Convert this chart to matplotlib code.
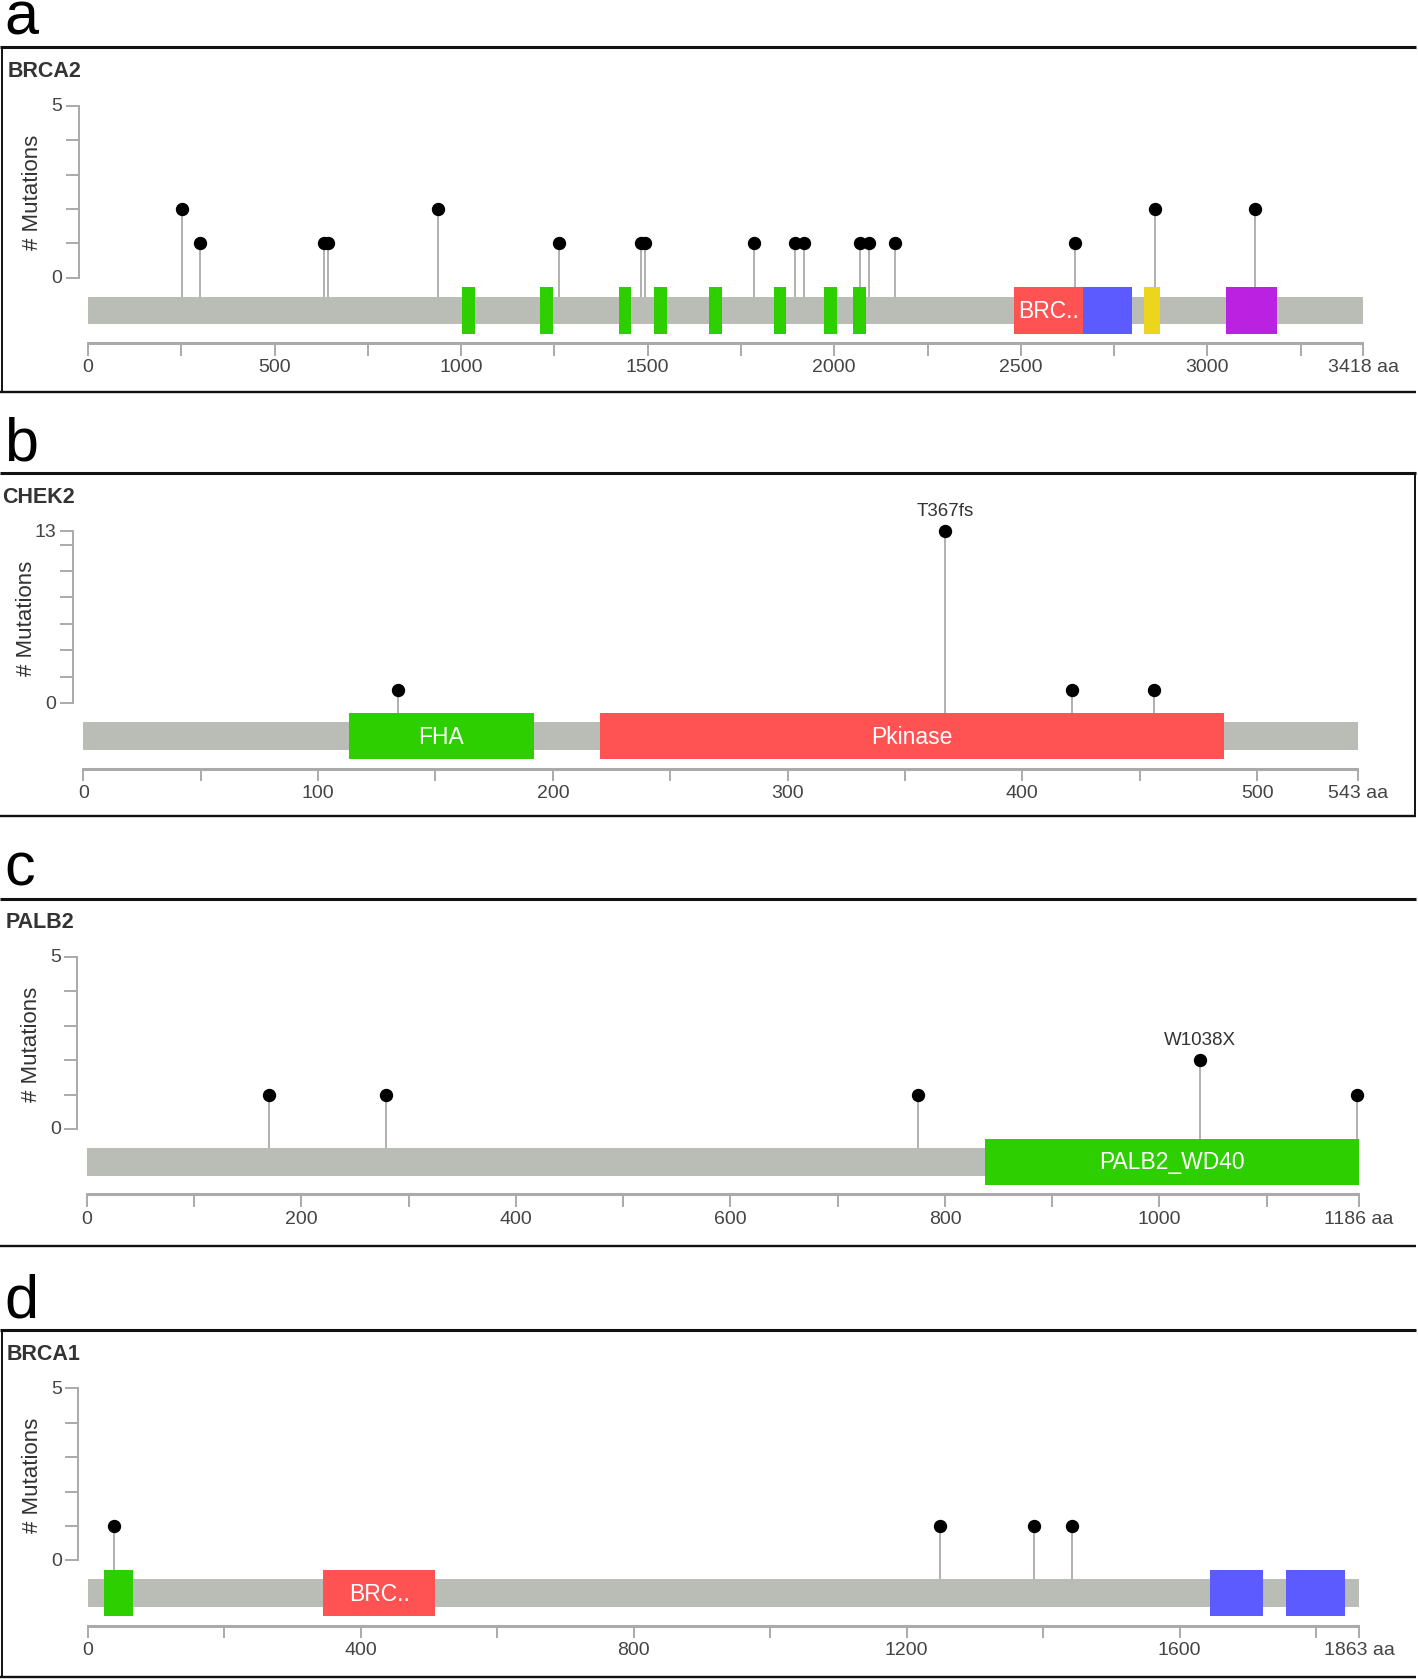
import matplotlib
matplotlib.use("Agg")
import matplotlib.pyplot as plt
from matplotlib.patches import Rectangle
from matplotlib.transforms import blended_transform_factory

plt.rcParams["font.family"] = ["Liberation Sans", "DejaVu Sans"]

W, H = 1418, 1681

BAR_COLOR = "#babdb6"
STEM_COLOR = "#b0b0b0"
AXIS_COLOR = "#aaaaaa"
TEXT_COLOR = "#444444"

GREEN, RED, BLUE, YELLOW, PURPLE = "#2dcf00", "#ff5353", "#5b5bff", "#ebd61d", "#ba21e0"

# ---- BRCA2 ----
brca2_len = 3418
brca2_pos = [252, 300, 632, 643, 937, 1262, 1483, 1493, 1785, 1894, 1920,
             2068, 2094, 2163, 2644, 2859, 3128]
brca2_cnt = [2, 1, 1, 1, 2, 1, 1, 1, 1, 1, 1, 1, 1, 1, 1, 2, 2]
brca2_mut_labels = [""] * len(brca2_pos)
brca2_dom_start = [1002, 1212, 1422, 1517, 1664, 1838, 1972, 2051, 2481, 2668, 2831, 3051]
brca2_dom_end = [1036, 1246, 1456, 1553, 1698, 1871, 2007, 2085, 2668, 2799, 2873, 3188]
brca2_dom_color = [GREEN] * 8 + [RED, BLUE, YELLOW, PURPLE]
brca2_dom_label = [""] * 8 + ["BRC..", "", "", ""]

# ---- CHEK2 ----
chek2_len = 543
chek2_pos = [134, 367, 421, 456]
chek2_cnt = [1, 13, 1, 1]
chek2_mut_labels = ["", "T367fs", "", ""]
chek2_dom_start = [113, 220]
chek2_dom_end = [192, 486]
chek2_dom_color = [GREEN, RED]
chek2_dom_label = ["FHA", "Pkinase"]

# ---- PALB2 ----
palb2_len = 1186
palb2_pos = [170, 279, 775, 1038, 1184]
palb2_cnt = [1, 1, 1, 2, 1]
palb2_mut_labels = ["", "", "", "W1038X", ""]
palb2_dom_start = [837]
palb2_dom_end = [1186]
palb2_dom_color = [GREEN]
palb2_dom_label = ["PALB2_WD40"]

# ---- BRCA1 ----
brca1_len = 1863
brca1_pos = [38, 1249, 1386, 1443]
brca1_cnt = [1, 1, 1, 1]
brca1_mut_labels = ["", "", "", ""]
brca1_dom_start = [24, 345, 1644, 1756]
brca1_dom_end = [66, 509, 1722, 1842]
brca1_dom_color = [GREEN, RED, BLUE, BLUE]
brca1_dom_label = ["", "BRC..", "", ""]

panels = [
    dict(letter="a", gene="BRCA2", length=brca2_len, pos=brca2_pos, cnt=brca2_cnt,
         mut_labels=brca2_mut_labels, ds=brca2_dom_start, de=brca2_dom_end,
         dc=brca2_dom_color, dl=brca2_dom_label, ymax=5, yticks=[0, 1, 2, 3, 4, 5],
         xstep=250, xlabstep=500,
         zero=278.7, x0=88.0, xL=1363.3, yax=78.5, name_x=7.5, bottom=392.7,
         left_border=True, right_border=False),
    dict(letter="b", gene="CHEK2", length=chek2_len, pos=chek2_pos, cnt=chek2_cnt,
         mut_labels=chek2_mut_labels, ds=chek2_dom_start, de=chek2_dom_end,
         dc=chek2_dom_color, dl=chek2_dom_label, ymax=13,
         yticks=[0, 2, 4, 6, 8, 10, 12, 13], xstep=50, xlabstep=100,
         zero=704.3, x0=83.4, xL=1358.0, yax=72.5, name_x=2.1, bottom=817.3,
         left_border=False, right_border=True),
    dict(letter="c", gene="PALB2", length=palb2_len, pos=palb2_pos, cnt=palb2_cnt,
         mut_labels=palb2_mut_labels, ds=palb2_dom_start, de=palb2_dom_end,
         dc=palb2_dom_color, dl=palb2_dom_label, ymax=5, yticks=[0, 1, 2, 3, 4, 5],
         xstep=100, xlabstep=200,
         zero=1130.0, x0=86.8, xL=1359.0, yax=77.2, name_x=5.4, bottom=1246.7,
         left_border=False, right_border=False),
    dict(letter="d", gene="BRCA1", length=brca1_len, pos=brca1_pos, cnt=brca1_cnt,
         mut_labels=brca1_mut_labels, ds=brca1_dom_start, de=brca1_dom_end,
         dc=brca1_dom_color, dl=brca1_dom_label, ymax=5, yticks=[0, 1, 2, 3, 4, 5],
         xstep=200, xlabstep=400,
         zero=1561.3, x0=87.9, xL=1359.0, yax=78.2, name_x=6.4, bottom=1677.7,
         left_border=True, right_border=False),
]

YSPAN = 172.0      # pixels between count 0 and top tick
BAR_TOP, BAR_H = 19.0, 27.5
DOM_TOP, DOM_H = 9.7, 46.3
XAXIS = 65.3


def draw_panel(fig, bg, p):
    z = p["zero"]
    L = p["length"]
    ymax = p["ymax"]
    px = bg.transData

    ax = fig.add_axes([p["x0"] / W, (H - z) / H, (p["xL"] - p["x0"]) / W, YSPAN / H])
    ax.set_xlim(0, L)
    ax.set_ylim(0, ymax)
    ax.axis("off")
    bx = blended_transform_factory(ax.transData, px)
    by = blended_transform_factory(px, ax.transData)

    # frame + panel letter
    top = z - 230.5
    bg.plot([0, 1416], [top, top], color="#111111", lw=2.2, solid_capstyle="butt")
    bg.plot([0, 1416], [p["bottom"], p["bottom"]], color="#111111", lw=1.7,
            solid_capstyle="butt")
    if p["left_border"]:
        bg.plot([1.5, 1.5], [top, p["bottom"]], color="#111111", lw=1.4)
    if p["right_border"]:
        bg.plot([1415, 1415], [top, p["bottom"]], color="#111111", lw=1.4)
    bg.text(4, z - 244, p["letter"], fontsize=44, color="black", va="baseline", ha="left")
    bg.text(p["name_x"], z - 207, p["gene"], fontsize=15.5, fontweight="bold",
            color="#333333", va="center", ha="left")

    # protein backbone and domains
    ax.add_patch(Rectangle((0, z + BAR_TOP), L, BAR_H, transform=bx,
                           facecolor=BAR_COLOR, edgecolor="none", clip_on=False, zorder=2))
    for s, e, c, lab in zip(p["ds"], p["de"], p["dc"], p["dl"]):
        ax.add_patch(Rectangle((s, z + DOM_TOP), e - s, DOM_H, transform=bx,
                               facecolor=c, edgecolor="none", clip_on=False, zorder=3))
        if lab:
            ax.text((s + e) / 2, z + DOM_TOP + DOM_H / 2, lab, transform=bx,
                    color="white", fontsize=16.5, ha="center", va="center", zorder=5)

    # lollipops
    for x, c, lab in zip(p["pos"], p["cnt"], p["mut_labels"]):
        in_dom = any(s <= x <= e for s, e in zip(p["ds"], p["de"]))
        base_px = DOM_TOP if in_dom else BAR_TOP
        ymin = -base_px / YSPAN * ymax
        ax.vlines(x, ymin, c, colors=STEM_COLOR, lw=1.4, clip_on=False, zorder=1)
        ax.plot(x, c, "o", ms=8.6, color="black", clip_on=False, zorder=6)
        if lab:
            ax.annotate(lab, (x, c), xytext=(0, 21), textcoords="offset pixels",
                        ha="center", va="center", fontsize=13.5, color="#333333")

    # y axis
    yx = p["yax"]
    ax.plot([yx, yx], [0, ymax], transform=by, color=AXIS_COLOR, lw=1.4, clip_on=False)
    for t in p["yticks"]:
        ax.plot([yx - 12, yx], [t, t], transform=by, color=AXIS_COLOR, lw=1.4,
                clip_on=False)
    for t in (0, ymax):
        ax.text(yx - 16, t, str(t), transform=by, ha="right", va="center",
                fontsize=14, color=TEXT_COLOR)
    ax.text(yx - 46, ymax / 2, "# Mutations", transform=by, rotation=90,
            ha="center", va="center", fontsize=16, color="#333333")

    # x axis
    ya = z + XAXIS
    ax.plot([0, L], [ya, ya], transform=bx, color=AXIS_COLOR, lw=2.2, clip_on=False,
            solid_capstyle="butt")
    ticks = list(range(0, L, p["xstep"])) + [L]
    for t in ticks:
        ax.plot([t, t], [ya, ya + 11.7], transform=bx, color=AXIS_COLOR, lw=1.4,
                clip_on=False)
        if t == L:
            ax.text(t, z + 89.3, f"{L} aa", transform=bx, ha="center", va="center",
                    fontsize=14, color=TEXT_COLOR)
        elif t % p["xlabstep"] == 0:
            ax.text(t, z + 89.3, str(t), transform=bx, ha="center", va="center",
                    fontsize=14, color=TEXT_COLOR)


def main():
    fig = plt.figure(figsize=(W / 100, H / 100), dpi=100)
    bg = fig.add_axes([0, 0, 1, 1])
    bg.set_xlim(0, W)
    bg.set_ylim(H, 0)
    bg.axis("off")

    for p in panels:
        draw_panel(fig, bg, p)

    fig.savefig("out.png", dpi=100)
    plt.close(fig)


if __name__ == "__main__":
    main()
